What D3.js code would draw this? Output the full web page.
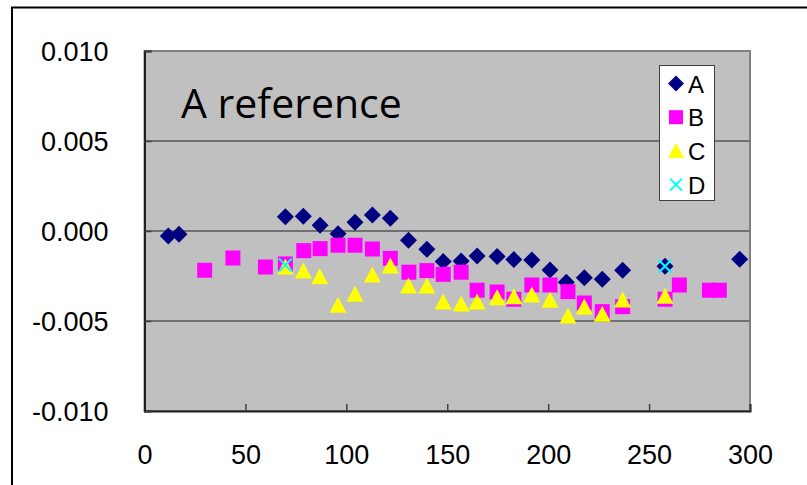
<!DOCTYPE html>
<html>
<head>
<meta charset="utf-8">
<script src="https://cdn.jsdelivr.net/npm/d3@7"></script>
<style>
  html, body { margin: 0; padding: 0; background: #fff; }
  svg { display: block; }
</style>
</head>
<body>
<svg id="chart" width="807" height="485"></svg>
<script>
// Series values
const aX = [11.8, 17.1, 69.8, 78.7, 87.0, 95.9, 104.3, 112.9, 121.8, 130.8, 139.9, 148.0, 156.9, 164.8, 174.7, 183.0, 191.9, 200.9, 209.0, 217.9, 226.8, 236.9, 257.9, 294.9];
const aY = [-0.00028, -0.00018, 0.00079, 0.00082, 0.00032, -0.00015, 0.00048, 0.00089, 0.00071, -0.00052, -0.00102, -0.00170, -0.00167, -0.00139, -0.00141, -0.00159, -0.00161, -0.00217, -0.00285, -0.00260, -0.00268, -0.00218, -0.00196, -0.00157];

const bX = [29.8, 43.8, 59.9, 69.8, 78.9, 87.0, 95.9, 104.3, 112.9, 121.8, 131.0, 139.9, 148.0, 156.9, 164.8, 174.7, 183.0, 191.9, 200.9, 209.8, 217.9, 226.8, 236.9, 257.9, 265.0, 279.9, 284.8];
const bY = [-0.00218, -0.00150, -0.00200, -0.00183, -0.00109, -0.00098, -0.00079, -0.00079, -0.00100, -0.00152, -0.00229, -0.00220, -0.00241, -0.00229, -0.00329, -0.00339, -0.00379, -0.00300, -0.00300, -0.00337, -0.00400, -0.00448, -0.00420, -0.00379, -0.00300, -0.00329, -0.00329];

const cX = [69.8, 78.7, 86.8, 95.9, 104.3, 112.9, 121.8, 130.8, 139.9, 148.0, 156.9, 164.8, 174.7, 183.0, 191.9, 200.9, 209.8, 217.9, 226.8, 236.9, 257.9];
const cY = [-0.00200, -0.00222, -0.00254, -0.00413, -0.00352, -0.00244, -0.00194, -0.00306, -0.00306, -0.00394, -0.00406, -0.00394, -0.00371, -0.00365, -0.00356, -0.00385, -0.00472, -0.00422, -0.00463, -0.00383, -0.00363];

const dX = [69.8, 257.9];
const dY = [-0.00189, -0.00196];

const seriesNames = ["A", "B", "C", "D"];
const xTicks = [0, 50, 100, 150, 200, 250, 300];
const yTicks = [-0.010, -0.005, 0.000, 0.005, 0.010];
const titleText = "A reference";

const series = [
  { name: seriesNames[0], xs: aX, ys: aY, color: "#000080", shape: "diamond" },
  { name: seriesNames[1], xs: bX, ys: bY, color: "#FF00FF", shape: "square" },
  { name: seriesNames[2], xs: cX, ys: cY, color: "#FFFF00", shape: "triangle" },
  { name: seriesNames[3], xs: dX, ys: dY, color: "#00FFFF", shape: "cross" }
];

const svg = d3.select("#chart");
const plot = { left: 144.5, right: 750, top: 51, bottom: 411 };

const x = d3.scaleLinear().domain([0, 300]).range([plot.left, plot.right]);
const y = d3.scaleLinear().domain([-0.010, 0.010]).range([plot.bottom, plot.top]);

// Plain hyphen-minus for negative tick labels
const fmt3 = v => d3.format(".3f")(v).replace("\u2212", "-");

// Outer chart frame (top and left edges visible)
svg.append("path")
  .attr("d", "M12,485 L12,7.5 L807,7.5")
  .attr("fill", "none").attr("stroke", "#000").attr("stroke-width", 2);

// Plot area background
svg.append("rect")
  .attr("x", plot.left).attr("y", plot.top)
  .attr("width", plot.right - plot.left).attr("height", plot.bottom - plot.top)
  .attr("fill", "#C0C0C0").attr("stroke", "#808080").attr("stroke-width", 2);

// Horizontal gridlines
svg.append("g").selectAll("line")
  .data(yTicks.filter(v => v > -0.010 && v < 0.010))
  .join("line")
  .attr("x1", plot.left).attr("x2", plot.right)
  .attr("y1", d => y(d)).attr("y2", d => y(d))
  .attr("stroke", "#707070").attr("stroke-width", 2);

// Axes with inward ticks
const xAxis = svg.append("g")
  .attr("transform", `translate(0,${plot.bottom})`)
  .call(d3.axisBottom(x).tickValues(xTicks).tickSize(-7).tickPadding(20).tickFormat(d3.format("d")));
const yAxis = svg.append("g")
  .attr("transform", `translate(${plot.left},0)`)
  .call(d3.axisLeft(y).tickValues(yTicks).tickSize(-7).tickPadding(36).tickFormat(fmt3));

[xAxis, yAxis].forEach(g => {
  g.select(".domain").attr("stroke", "#202020").attr("stroke-width", 2);
  g.selectAll(".tick line").attr("stroke", "#404040").attr("stroke-width", 1.5);
  g.selectAll(".tick text")
    .attr("fill", "#000")
    .style("font-family", "'Liberation Sans', Arial, sans-serif")
    .style("font-size", "27px");
});
xAxis.selectAll(".tick text").attr("dy", "0.71em").attr("y", 34);
yAxis.selectAll(".tick text").attr("dy", "0.36em");

// Marker shapes
function markerPath(shape, s) {
  const h = s / 2;
  switch (shape) {
    case "diamond": return `M0,${-h - 1}L${h + 1},0L0,${h + 1}L${-h - 1},0Z`;
    case "square": return `M${-h},${-h}H${h}V${h}H${-h}Z`;
    case "triangle": return `M0,${-h - 1}L${h + 1},${h}L${-h - 1},${h}Z`;
    case "cross": return `M${-h + 1},${-h + 1}L${h - 1},${h - 1}M${h - 1},${-h + 1}L${-h + 1},${h - 1}`;
  }
}

function drawMarker(sel, s, size) {
  if (s.shape === "cross") {
    sel.attr("d", markerPath(s.shape, size)).attr("fill", "none")
      .attr("stroke", s.color).attr("stroke-width", 2);
  } else {
    sel.attr("d", markerPath(s.shape, size)).attr("fill", s.color).attr("stroke", "none");
  }
}

// Data points, series drawn in order
series.forEach(s => {
  const pts = s.xs.map((v, i) => [v, s.ys[i]]);
  svg.append("g").selectAll("path")
    .data(pts)
    .join("path")
    .attr("transform", d => `translate(${x(d[0])},${y(d[1])})`)
    .call(sel => drawMarker(sel, s, 15));
});

// Title inside plot area
svg.append("text")
  .attr("x", 181).attr("y", 118)
  .attr("fill", "#000")
  .style("font-family", "'Open Sans', sans-serif")
  .style("font-size", "41px")
  .text(titleText);

// Legend
const legend = svg.append("g");
legend.append("rect")
  .attr("x", 659.5).attr("y", 65.5).attr("width", 55).attr("height", 135)
  .attr("fill", "#fff").attr("stroke", "#404040").attr("stroke-width", 1);
series.forEach((s, i) => {
  const cy = 83.5 + i * 33.7;
  legend.append("path")
    .attr("transform", `translate(676,${cy})`)
    .call(sel => drawMarker(sel, s, 14));
  legend.append("text")
    .attr("x", 688).attr("y", cy + 9)
    .attr("fill", "#000")
    .style("font-family", "'Liberation Sans', Arial, sans-serif")
    .style("font-size", "24px")
    .text(s.name);
});
</script>
</body>
</html>
